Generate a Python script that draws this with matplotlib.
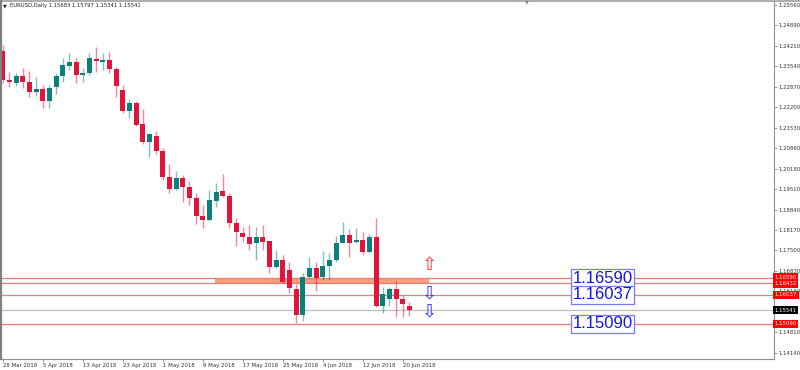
import matplotlib
matplotlib.use("Agg")
import matplotlib.pyplot as plt
import numpy as np

# EURUSD daily, 28 Mar 2018 .. 21 Jun 2018
opens = [1.24049, 1.23097, 1.23008, 1.23228, 1.23031, 1.22713, 1.22801, 1.22407, 1.22857, 1.23228,
         1.23557, 1.23688, 1.23271, 1.23337, 1.23787, 1.23698, 1.23754, 1.23458, 1.22752, 1.22089,
         1.22352, 1.21642, 1.21051, 1.21258, 1.20775, 1.19921, 1.19508, 1.19879, 1.19573, 1.19222,
         1.18641, 1.18499, 1.19133, 1.19462, 1.19288, 1.18391, 1.18082, 1.17931, 1.17734, 1.17931,
         1.17810, 1.16946, 1.17186, 1.16857, 1.16224, 1.15380, 1.16618, 1.16913, 1.16618, 1.16989,
         1.17186, 1.17754, 1.18008, 1.17777, 1.17843, 1.17458, 1.17931, 1.15675, 1.15905, 1.16243,
         1.15905, 1.15683]
highs = [1.24246, 1.23360, 1.23327, 1.23491, 1.23393, 1.23196, 1.22933, 1.22933, 1.23337, 1.23820,
         1.23984, 1.23820, 1.23491, 1.23984, 1.24181, 1.23994, 1.24026, 1.23534, 1.22916, 1.22470,
         1.22417, 1.22135, 1.21366, 1.21422, 1.20854, 1.20338, 1.20118, 1.19967, 1.19790, 1.19396,
         1.18992, 1.19485, 1.19705, 1.20000, 1.19396, 1.18575, 1.18279, 1.18335, 1.18260, 1.18335,
         1.17810, 1.17514, 1.17350, 1.17130, 1.16398, 1.16769, 1.17275, 1.17130, 1.17481, 1.17406,
         1.17974, 1.18424, 1.18194, 1.18227, 1.18115, 1.18040, 1.18555, 1.16289, 1.16309, 1.16496,
         1.16036, 1.15797]
lows = [1.22999, 1.22877, 1.22900, 1.22834, 1.22549, 1.22572, 1.22187, 1.22178, 1.22637, 1.23041,
        1.23425, 1.23008, 1.23031, 1.23261, 1.23370, 1.23425, 1.23317, 1.22529, 1.21997, 1.21839,
        1.21586, 1.20985, 1.20559, 1.20667, 1.19813, 1.19376, 1.19485, 1.19100, 1.18992, 1.18368,
        1.18227, 1.18476, 1.18917, 1.19265, 1.18227, 1.17655, 1.17787, 1.17514, 1.17186, 1.17514,
        1.16749, 1.16913, 1.16440, 1.16092, 1.15107, 1.15183, 1.16585, 1.16178, 1.16529, 1.16529,
        1.17130, 1.17734, 1.17275, 1.17734, 1.17350, 1.17406, 1.15652, 1.15455, 1.15675, 1.15324,
        1.15324, 1.15341]
closes = [1.23097, 1.23021, 1.23228, 1.23031, 1.22713, 1.22801, 1.22407, 1.22824, 1.23228, 1.23580,
          1.23688, 1.23271, 1.23317, 1.23810, 1.23711, 1.23754, 1.23468, 1.22910, 1.22089, 1.22352,
          1.21609, 1.21051, 1.21324, 1.20775, 1.19921, 1.19508, 1.19879, 1.19593, 1.19222, 1.18641,
          1.18499, 1.19156, 1.19419, 1.19288, 1.18391, 1.18096, 1.17951, 1.17711, 1.17951, 1.17787,
          1.16946, 1.17186, 1.16473, 1.16256, 1.15380, 1.16618, 1.16913, 1.16585, 1.16989, 1.17186,
          1.17754, 1.18008, 1.17754, 1.17843, 1.17458, 1.17931, 1.15675, 1.16069, 1.16243, 1.15895,
          1.15731, 1.15541]

date_labels = ["28 Mar 2018", "5 Apr 2018", "13 Apr 2018", "23 Apr 2018", "1 May 2018", "9 May 2018",
               "17 May 2018", "25 May 2018", "4 Jun 2018", "12 Jun 2018", "20 Jun 2018"]
date_bars = [0, 6, 12, 18, 24, 30, 36, 42, 48, 54, 60]

price_ticks = [1.25560, 1.24890, 1.24210, 1.23540, 1.22870, 1.22200, 1.21530, 1.20860, 1.20180,
               1.19510, 1.18840, 1.18170, 1.17500, 1.16830, 1.16160, 1.14810, 1.14140]

levels = [1.16590, 1.16432, 1.16037, 1.15090]
boxed_levels = [1.16590, 1.16037, 1.15090]
zone = (1.16432, 1.16590)
zone_bars = (32, 64)
bid = 1.15541
up_arrows = [1.17005]
down_arrows = [1.16086, 1.15495]
arrow_bar = 64
box_bar = 90
header = "EURUSD,Daily 1.15683 1.15797 1.15341 1.15541"

RED = "#E0143C"
TEAL = "#0A8078"
LINE = "#F07878"

fig = plt.figure(figsize=(8, 3.7), dpi=100)
ax = fig.add_axes([1 / 800, 11 / 370, 773 / 800, 358 / 370])
ax.set_xlim(-0.26, 115.69)
ax.set_ylim(1.13934, 1.25691)

o = np.array(opens); h = np.array(highs); l = np.array(lows); c = np.array(closes)
x = np.arange(len(o))
up = c >= o
cols = np.where(up, TEAL, RED)

# zone + levels sit behind the candles
ax.fill_between([zone_bars[0] - 0.1, zone_bars[1]], zone[0], zone[1], color="#F8A07C", lw=0, zorder=1)
for lv in levels:
    ax.axhline(lv, color=LINE, lw=0.9, zorder=1.5)
ax.axhline(bid, color="#BEBEBE", lw=0.9, zorder=1.5)

ax.vlines(x, l, h, colors=cols, lw=1.0, alpha=0.5, zorder=2)
body = np.maximum(np.abs(c - o), 0.00025)
ax.bar(x, body, bottom=np.minimum(o, c), width=0.75, color=cols, lw=0, zorder=3)

for y in up_arrows:
    ax.text(arrow_bar, y, "\u21e7", color="#FF3030", fontsize=13, ha="center", va="center",
            family="DejaVu Sans", zorder=4)
for y in down_arrows:
    ax.text(arrow_bar, y, "\u21e9", color="#3030FF", fontsize=13, ha="center", va="center",
            family="DejaVu Sans", zorder=4)

for lv in boxed_levels:
    ax.text(box_bar, lv, f"{lv:.5f}", color="#1414E6", fontsize=12, ha="center", va="center",
            family="Liberation Sans", zorder=5,
            bbox=dict(boxstyle="square,pad=0.1", fc="white", ec="#7878FF", lw=0.9))

# right price scale
ax.yaxis.tick_right()
ax.set_yticks(price_ticks)
ax.set_yticklabels([f"{p:.5f}" for p in price_ticks])
ax.set_xticks(date_bars)
ax.set_xticklabels(date_labels, ha="left")
ax.tick_params(axis="both", labelsize=3.9, colors="#333333", length=2, width=0.6, pad=1.2)
ax.tick_params(axis="y", color="#888888")
ax.tick_params(axis="x", color="#888888", pad=1.2)

for side in ["top", "left"]:
    ax.spines[side].set_visible(False)
for side in ["right", "bottom"]:
    ax.spines[side].set_color("#909090")
    ax.spines[side].set_linewidth(0.8)

# price tags on the scale
tag_shift = {1.16590: 0.6, 1.16432: -0.6}
for lv in levels:
    ax.annotate(f"{lv:.5f}", xy=(1, lv), xycoords=("axes fraction", "data"),
                xytext=(0.6, tag_shift.get(lv, 0)), textcoords="offset points", fontsize=3.9,
                color="white", ha="left", va="center", zorder=6,
                bbox=dict(boxstyle="square,pad=0.25", fc="#FF0000", ec="none"), annotation_clip=False)
ax.annotate(f"{bid:.5f}", xy=(1, bid), xycoords=("axes fraction", "data"), xytext=(0.6, 0),
            textcoords="offset points", fontsize=3.9, color="white", ha="left", va="center", zorder=6,
            bbox=dict(boxstyle="square,pad=0.3", fc="#000000", ec="none"), annotation_clip=False)

# window chrome
fig.add_artist(plt.Line2D([0, 1], [1 - 0.5 / 370, 1 - 0.5 / 370], color="#A0A0A0", lw=1.2))
fig.add_artist(plt.Line2D([0.8 / 800, 0.8 / 800], [11 / 370, 1], color="#808080", lw=1.6))
fig.text(527 / 800, 1 - 2 / 370, "\u25bc", fontsize=3.5, color="#708090", ha="center", va="center")
fig.text(3 / 800, 1 - 6 / 370, "\u25bc", fontsize=3.5, color="#202020", ha="left", va="center")
fig.text(10 / 800, 1 - 6 / 370, header, fontsize=3.8, color="#202020", ha="left", va="center")

fig.savefig("out.png", dpi=100, facecolor="white")
